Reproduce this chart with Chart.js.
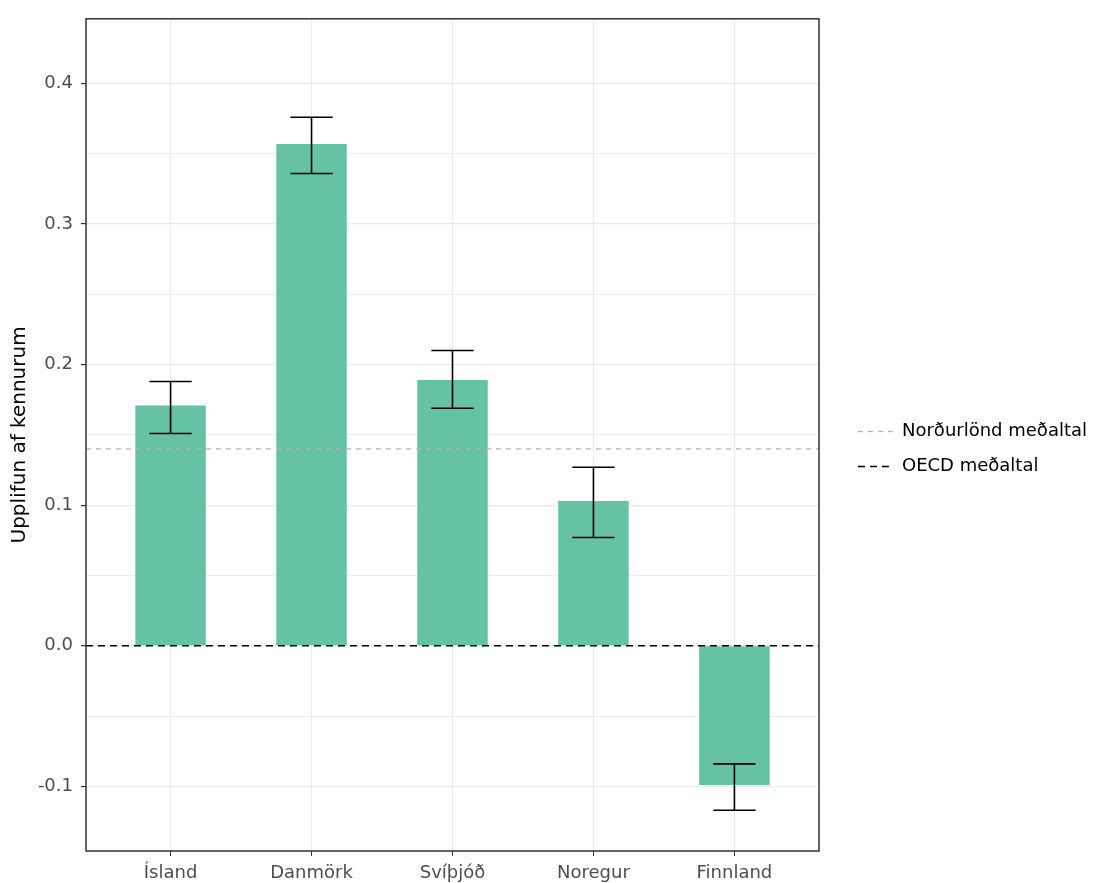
<!DOCTYPE html>
<html>
<head>
<meta charset="utf-8">
<script src="https://cdn.jsdelivr.net/npm/chart.js@4"></script>
<style>
    html, body { margin: 0; padding: 0; background: #fff; overflow: hidden; }
</style>
</head>
<body>
<canvas id="myChart" width="1097" height="883"></canvas>
<script>
const countries = ['Ísland', 'Danmörk', 'Svíþjóð', 'Noregur', 'Finnland'];
const values = [0.171, 0.357, 0.189, 0.103, -0.099];
const errLow = [0.151, 0.336, 0.169, 0.077, -0.117];
const errHigh = [0.188, 0.376, 0.210, 0.127, -0.084];
const nordicMean = 0.140;
const oecdMean = 0.0;
const yMajorTicks = [-0.1, 0.0, 0.1, 0.2, 0.3, 0.4];
const yMinorTicks = [-0.05, 0.05, 0.15, 0.25, 0.35];

// axis range (ggplot style expansion)
const xMin = 0.4, xMax = 5.6;
const yMin = -0.146, yMax = 0.446;

document.addEventListener("DOMContentLoaded", myLoadEvent);

function isMajor(v) {
    return yMajorTicks.some(t => Math.abs(t - v) < 1e-6);
}

const errorBars = {
    id: 'errorBars',
    afterDatasetsDraw(chart) {
        const { ctx, scales: { x, y } } = chart;
        ctx.save();
        ctx.strokeStyle = '#000';
        ctx.lineWidth = 1.6;
        countries.forEach((c, i) => {
            const cx = x.getPixelForValue(i + 1);
            const half = x.getPixelForValue(i + 1.15) - cx;
            const yl = y.getPixelForValue(errLow[i]);
            const yh = y.getPixelForValue(errHigh[i]);
            ctx.beginPath();
            ctx.moveTo(cx, yl); ctx.lineTo(cx, yh);
            ctx.moveTo(cx - half, yl); ctx.lineTo(cx + half, yl);
            ctx.moveTo(cx - half, yh); ctx.lineTo(cx + half, yh);
            ctx.stroke();
        });
        // panel border
        const a = chart.chartArea;
        ctx.strokeStyle = '#333';
        ctx.lineWidth = 1.5;
        ctx.strokeRect(a.left, a.top, a.right - a.left, a.bottom - a.top);
        ctx.restore();
    }
};

function myLoadEvent() {
    const ctx = document.getElementById('myChart');
    Chart.defaults.font.family = 'DejaVu Sans';

    new Chart(ctx, {
        type: 'bar',
        data: {
            datasets: [{
                type: 'line',
                label: 'Norðurlönd meðaltal',
                data: [{ x: xMin, y: nordicMean }, { x: xMax, y: nordicMean }],
                borderColor: '#b3b3b3',
                borderWidth: 1.3,
                borderDash: [5, 5],
                pointRadius: 0,
                order: 0
            }, {
                type: 'line',
                label: 'OECD meðaltal',
                data: [{ x: xMin, y: oecdMean }, { x: xMax, y: oecdMean }],
                borderColor: '#000',
                borderWidth: 1.5,
                borderDash: [7, 5],
                pointRadius: 0,
                order: 0
            }, {
                type: 'bar',
                label: 'Upplifun',
                data: countries.map((c, i) => ({ x: i + 1, y: values[i] })),
                backgroundColor: '#66c2a5',
                barPercentage: 0.5,
                categoryPercentage: 1,
                order: 1
            }]
        },
        options: {
            responsive: false,
            animation: false,
            layout: { padding: { top: 15 } },
            plugins: {
                tooltip: { enabled: false },
                legend: {
                    position: 'right',
                    maxWidth: 300,
                    labels: {
                        usePointStyle: true,
                        pointStyle: 'line',
                        pointStyleWidth: 35,
                        padding: 17,
                        color: '#000',
                        font: { size: 18 },
                        filter: item => item.datasetIndex < 2,
                        generateLabels: chart => {
                            const items = Chart.defaults.plugins.legend.labels.generateLabels(chart);
                            items.forEach(it => {
                                const ds = chart.data.datasets[it.datasetIndex];
                                it.lineDash = ds.borderDash || [];
                                it.strokeStyle = ds.borderColor;
                                it.lineWidth = ds.borderWidth;
                            });
                            return items;
                        }
                    }
                }
            },
            scales: {
                x: {
                    type: 'linear',
                    min: xMin,
                    max: xMax,
                    offset: false,
                    afterBuildTicks: s => { s.ticks = countries.map((c, i) => ({ value: i + 1 })); },
                    afterFit: s => { s.height = 32; },
                    ticks: {
                        callback: v => countries[Math.round(v) - 1],
                        color: '#4d4d4d',
                        font: { size: 18 },
                        padding: 7,
                        autoSkip: false,
                        maxRotation: 0
                    },
                    grid: { offset: false, color: '#ebebeb', tickColor: '#333', tickLength: 5 },
                    border: { display: false }
                },
                y: {
                    min: yMin,
                    max: yMax,
                    afterBuildTicks: s => {
                        s.ticks = yMajorTicks.concat(yMinorTicks).sort((a, b) => a - b).map(v => ({ value: v }));
                    },
                    afterFit: s => { s.width = 86; },
                    ticks: {
                        callback: v => isMajor(v) ? v.toFixed(1) : '',
                        color: '#4d4d4d',
                        font: { size: 18 },
                        padding: 8,
                        autoSkip: false
                    },
                    grid: {
                        color: '#ebebeb',
                        lineWidth: c => (c.tick && isMajor(c.tick.value)) ? 1.2 : 0.9,
                        tickColor: c => (c.tick && isMajor(c.tick.value)) ? '#333' : 'rgba(0,0,0,0)',
                        tickLength: 5
                    },
                    border: { display: false },
                    title: {
                        display: true,
                        text: 'Upplifun af kennurum',
                        color: '#000',
                        font: { size: 20 },
                        padding: { top: 8, bottom: 0 }
                    }
                },
                yRight: {
                    type: 'linear',
                    position: 'right',
                    grid: { display: false },
                    ticks: { display: false },
                    border: { display: false },
                    afterFit: s => { s.width = 22; }
                }
            }
        },
        plugins: [errorBars]
    });
}
</script>
</body>
</html>
